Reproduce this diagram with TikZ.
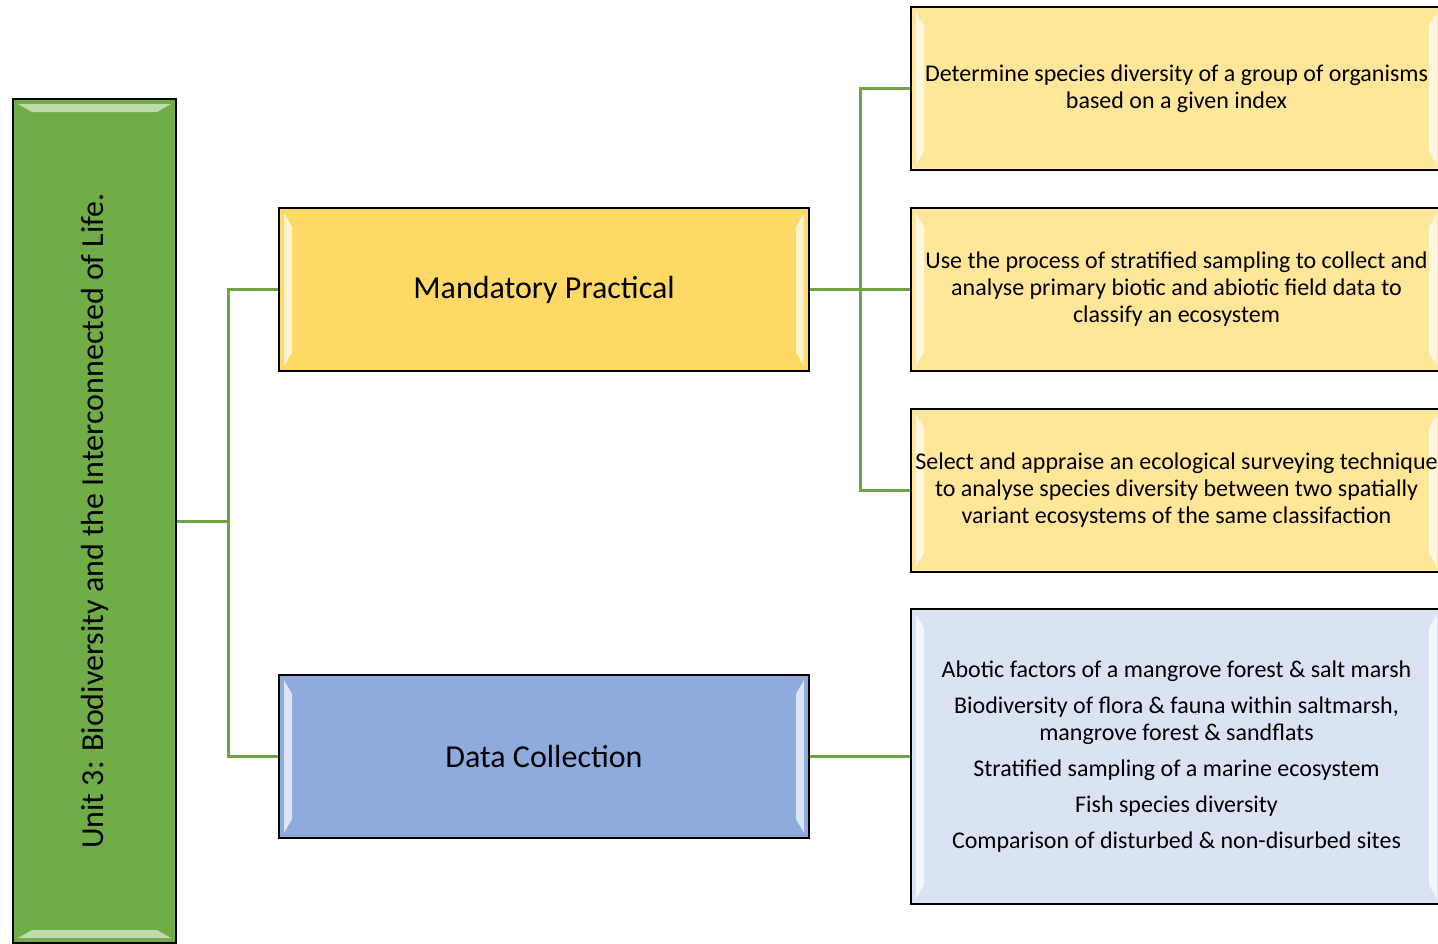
\documentclass[tikz,border=0pt]{standalone}
\usepackage{fontspec}
\setmainfont{Carlito}
\usetikzlibrary{positioning,calc}
\definecolor{unitgreen}{HTML}{70AD47}
\definecolor{linkgreen}{HTML}{6FA444}
\definecolor{pracyellow}{HTML}{FFD966}
\definecolor{aimyellow}{HTML}{FFE699}
\definecolor{datablue}{HTML}{8FAADC}
\definecolor{listblue}{HTML}{DAE3F3}
\tikzset{
  % light strips on the left and right edges
  bevelsides/.style={path picture={
    \path (path picture bounding box.north west) coordinate (pnw)
          (path picture bounding box.south east) coordinate (pse);
    \fill[white,opacity=.7] ($(pnw)+(2.5pt,-2.5pt)$) -- ++(4pt,-7pt) -- ($(pnw|-pse)+(6.5pt,9.5pt)$) -- ++(-4pt,-7pt) -- cycle;
    \fill[white,opacity=.7] ($(pse|-pnw)+(-2.5pt,-2.5pt)$) -- ++(-4pt,-7pt) -- ($(pse)+(-6.5pt,9.5pt)$) -- ++(4pt,-7pt) -- cycle;
  }},
  % light strips on the top and bottom edges
  beveltops/.style={path picture={
    \path (path picture bounding box.north west) coordinate (pnw)
          (path picture bounding box.south east) coordinate (pse);
    \fill[white,opacity=.55] ($(pnw)+(2.5pt,-2.5pt)$) -- ($(pse|-pnw)+(-2.5pt,-2.5pt)$) -- ++(-7pt,-4pt) -- ($(pnw)+(9.5pt,-6.5pt)$) -- cycle;
    \fill[white,opacity=.55] ($(pnw|-pse)+(2.5pt,2.5pt)$) -- ($(pse)+(-2.5pt,2.5pt)$) -- ++(-7pt,4pt) -- ($(pnw|-pse)+(9.5pt,6.5pt)$) -- cycle;
  }},
  box/.style={draw=black,line width=1pt,inner sep=0pt,align=center,text=black},
  unitbox/.style={box,beveltops,fill=unitgreen,minimum width=81.5pt,minimum height=422pt,font=\fontsize{16}{19}\selectfont},
  headbox/.style={box,bevelsides,minimum width=265pt,minimum height=81.5pt,font=\fontsize{16}{19}\selectfont},
  aimbox/.style={box,bevelsides,fill=aimyellow,minimum width=265.5pt,minimum height=81.5pt,font=\fontsize{12}{13.5}\selectfont},
  link/.style={draw=linkgreen,line width=1.5pt},
}
\begin{document}
\begin{tikzpicture}[x=0.5pt,y=-0.5pt]
    \useasboundingbox (0,0) rectangle (1438,943);
    % unit
    \node [unitbox] (unit) at (94.5,521) {\rotatebox{90}{Unit 3: Biodiversity and the Interconnected of Life.}};
    % practical and data
    \node [headbox,fill=pracyellow] (prac) at (544,289.5) {Mandatory Practical};
    \node [headbox,fill=datablue] (data) at (544,756.5) {Data Collection};
    % aims of the practical
    \node [aimbox] (aim1) at (1176.5,88.5) {Determine species diversity of a group of organisms\\based on a given index};
    \node [aimbox] (aim2) at (1176.5,289.5) {Use the process of stratified sampling to collect and\\analyse primary biotic and abiotic field data to\\classify an ecosystem};
    \node [aimbox] (aim3) at (1176.5,490.5) {Select and appraise an ecological surveying technique\\to analyse species diversity between two spatially\\variant ecosystems of the same classifaction};
    % data list
    \node [aimbox,fill=listblue,minimum height=147.5pt] (list) at (1176.5,756.5) {Abotic factors of a mangrove forest \& salt marsh\\[4.5pt]
      Biodiversity of flora \& fauna within saltmarsh,\\mangrove forest \& sandflats\\[4.5pt]
      Stratified sampling of a marine ecosystem\\[4.5pt]
      Fish species diversity\\[4.5pt]
      Comparison of disturbed \& non-disurbed sites};
    % links
    \coordinate (fork1) at (228,521);
    \coordinate (fork2) at (860,289.5);
    \draw [link] (unit.east) -- (fork1) |- (prac.west);
    \draw [link] (fork1) |- (data.west);
    \draw [link] (prac.east) -- (aim2.west);
    \draw [link] (fork2) |- (aim1.west);
    \draw [link] (fork2) |- (aim3.west);
    \draw [link] (data.east) -- (list.west);
\end{tikzpicture}
\end{document}
